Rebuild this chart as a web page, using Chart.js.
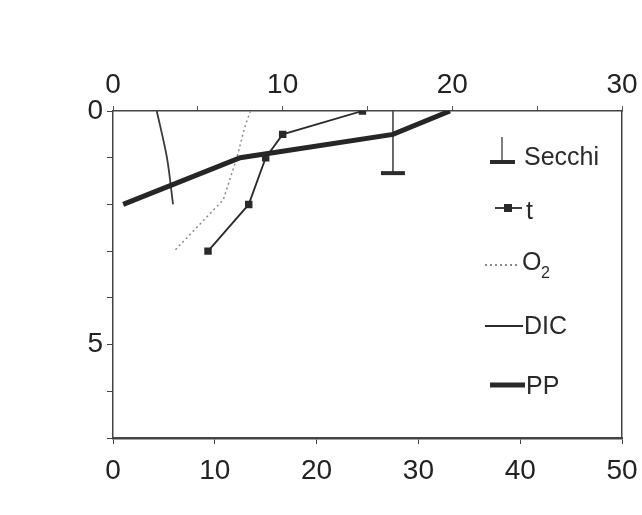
<!DOCTYPE html>
<html>
<head>
<meta charset="utf-8">
<script src="https://cdn.jsdelivr.net/npm/chart.js@4.4.1/dist/chart.umd.min.js"></script>
<style>
  body { margin: 0; background: #fff; }
  #wrap { width: 642px; height: 515px; }
</style>
</head>
<body>
<div id="wrap"><canvas id="profileChart"></canvas></div>
<script>
// depth profile (m) - top axis 0-30, bottom axis 0-50
const depthT = [0, 0.5, 1, 2, 3];
const tempT = [14.7, 10, 9, 8, 5.6];

const depthO2 = [0, 0.3, 1, 1.9, 3];
const valO2 = [8.1, 7.8, 7.3, 6.5, 3.6];

const depthDIC = [0, 1, 2];
const valDIC = [4.3, 5.3, 5.9];

const depthPP = [0, 0.5, 1, 2];
const valPP = [33.1, 27.5, 12.5, 1.0];

const secchiX = 27.5;
const secchiDepth = [0, 1.33];

const topTicks = [0, 10, 20, 30];
const leftTicks = [0, 5];

function pts(xs, ys) {
    return xs.map((v, i) => ({ x: v, y: ys[i] }));
}

const ink = '#2a2a2a';
const fontFam = '"Liberation Sans", Arial, sans-serif';

// legend drawn inside the plot, right side
const sideLegend = {
    id: 'sideLegend',
    afterDraw(chart) {
        const c = chart.ctx;
        c.save();
        c.fillStyle = ink;
        c.strokeStyle = ink;
        c.font = '25px ' + fontFam;
        c.textBaseline = 'middle';
        c.textAlign = 'left';

        // Secchi
        c.lineWidth = 1.2;
        c.beginPath(); c.moveTo(502, 137); c.lineTo(502, 162); c.stroke();
        c.lineWidth = 4;
        c.beginPath(); c.moveTo(490, 162); c.lineTo(515, 162); c.stroke();
        c.fillText(chart.data.datasets[4].label, 524, 158);

        // t
        c.lineWidth = 1.8;
        c.beginPath(); c.moveTo(495, 208); c.lineTo(522, 208); c.stroke();
        c.fillRect(504, 204, 8, 8);
        c.fillText(chart.data.datasets[1].label, 526, 212);

        // O2
        c.strokeStyle = '#888';
        c.setLineDash([2, 3]);
        c.beginPath(); c.moveTo(485, 265); c.lineTo(518, 265); c.stroke();
        c.setLineDash([]);
        c.fillText('O', 522, 263);
        c.font = '16px ' + fontFam;
        c.fillText('2', 541, 274);
        c.font = '25px ' + fontFam;

        // DIC
        c.strokeStyle = ink;
        c.lineWidth = 1.8;
        c.beginPath(); c.moveTo(485, 326); c.lineTo(523, 326); c.stroke();
        c.fillText(chart.data.datasets[3].label, 524, 327);

        // PP
        c.lineWidth = 5;
        c.beginPath(); c.moveTo(490, 385); c.lineTo(525, 385); c.stroke();
        c.fillText(chart.data.datasets[0].label, 526, 387);
        c.restore();
    }
};

new Chart(document.getElementById('profileChart'), {
    type: 'line',
    data: {
        datasets: [
            {
                label: 'PP',
                data: pts(valPP, depthPP),
                xAxisID: 'x', yAxisID: 'y',
                borderColor: '#262626',
                borderWidth: 5,
                pointRadius: 0,
                tension: 0
            },
            {
                label: 't',
                data: pts(tempT, depthT),
                xAxisID: 'x2', yAxisID: 'y',
                borderColor: ink,
                backgroundColor: ink,
                borderWidth: 1.8,
                pointStyle: 'rect',
                pointRadius: 4,
                tension: 0
            },
            {
                label: 'O₂',
                data: pts(valO2, depthO2),
                xAxisID: 'x2', yAxisID: 'y',
                borderColor: '#8a8a8a',
                borderWidth: 1.5,
                borderDash: [2, 3],
                pointRadius: 0,
                tension: 0
            },
            {
                label: 'DIC',
                data: pts(valDIC, depthDIC),
                xAxisID: 'x', yAxisID: 'y',
                borderColor: '#3a3a3a',
                borderWidth: 1.8,
                pointRadius: 0,
                tension: 0.3
            },
            {
                label: 'Secchi',
                data: secchiDepth.map(d => ({ x: secchiX, y: d })),
                xAxisID: 'x', yAxisID: 'y',
                borderColor: '#555',
                borderWidth: 1,
                pointStyle: 'line',
                pointRadius: [0, 12],
                pointBorderWidth: 4,
                pointBorderColor: '#2a2a2a'
            }
        ]
    },
    options: {
        responsive: true,
        maintainAspectRatio: false,
        animation: false,
        layout: { padding: 0 },
        plugins: {
            legend: { display: false },
            tooltip: { enabled: false }
        },
        scales: {
            x: {
                type: 'linear',
                position: 'bottom',
                min: 0, max: 50,
                afterFit: s => { s.height = 77; s.paddingLeft = 0; s.paddingRight = 0; },
                ticks: {
                    stepSize: 10,
                    color: '#222',
                    padding: 10,
                    font: { family: fontFam, size: 28 }
                },
                grid: { display: true, drawOnChartArea: false, drawTicks: true, tickLength: 6, color: '#444', lineWidth: 1 },
                border: { display: true, color: '#444', width: 2.5 }
            },
            x2: {
                type: 'linear',
                position: 'top',
                min: 0, max: 30,
                afterFit: s => { s.height = 111; s.paddingLeft = 0; s.paddingRight = 0; },
                ticks: {
                    stepSize: 5,
                    color: '#222',
                    padding: 4,
                    font: { family: fontFam, size: 28 },
                    callback: v => topTicks.includes(v) ? v : ''
                },
                grid: { display: true, drawOnChartArea: false, drawTicks: true, tickLength: 5, color: '#555', lineWidth: 1 },
                border: { display: true, color: '#444', width: 1.5 }
            },
            y: {
                type: 'linear',
                position: 'left',
                reverse: true,
                min: 0, max: 7,
                afterFit: s => { s.width = 113; },
                ticks: {
                    stepSize: 1,
                    color: '#222',
                    padding: 4,
                    font: { family: fontFam, size: 28 },
                    callback: v => leftTicks.includes(v) ? v : ''
                },
                grid: { display: true, drawOnChartArea: false, drawTicks: true, tickLength: 6, color: '#444', lineWidth: 1 },
                border: { display: true, color: '#444', width: 1.5 }
            },
            y2: {
                type: 'linear',
                position: 'right',
                min: 0, max: 7,
                afterFit: s => { s.width = 20; },
                ticks: { display: false },
                grid: { display: false },
                border: { display: true, color: '#444', width: 1.5 }
            }
        }
    },
    plugins: [sideLegend]
});
</script>
</body>
</html>
